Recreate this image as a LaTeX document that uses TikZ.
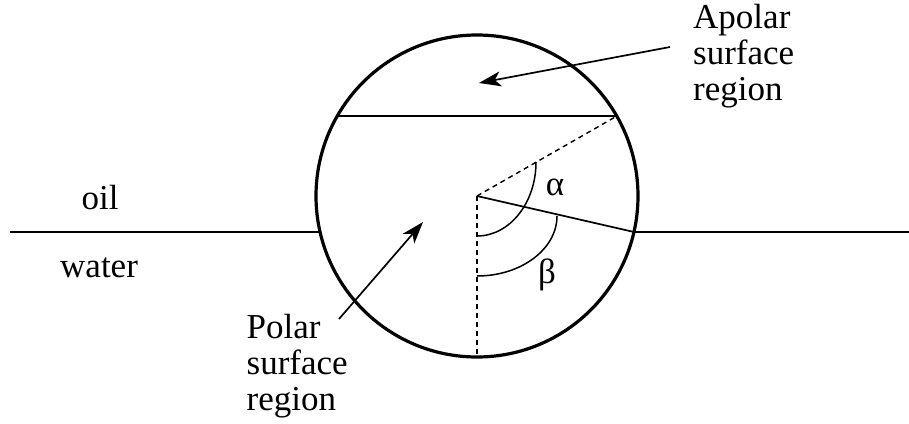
\documentclass[tikz,border=0pt]{standalone}
\usepackage{fontspec}
\setmainfont{Liberation Serif}
\usetikzlibrary{arrows.meta}
\tikzset{
  lbl/.style={inner sep=0pt, font=\fontsize{35}{36}\selectfont, align=left},
  thin line/.style={line width=1.7pt},
  dash line/.style={line width=1.4pt, dash pattern=on 5pt off 4pt},
  pointer/.style={line width=1.7pt, -{Stealth[length=22pt,width=15pt,inset=6pt]}}
}
\begin{document}
\begin{tikzpicture}[x=1pt,y=-1pt]
\useasboundingbox (0,0) rectangle (909,423);
% key points
\coordinate (O) at (477,196);
\coordinate (bottom) at (477,357);
\coordinate (chordL) at (337,116);
\coordinate (chordR) at (617,116);
\coordinate (wl) at (320,232);
\coordinate (wr) at (634,232);
\coordinate (lineL) at (10,232);
\coordinate (lineR) at (909,232);
\coordinate (aTail) at (670,47);
\coordinate (aTip) at (479,83);
\coordinate (pTail) at (339,319);
\coordinate (pTip) at (423,222);
% sphere
\draw[line width=3.2pt] (O) circle[radius=161pt];
% interface lines
\draw[thin line] (lineL) -- (wl);
\draw[thin line] (wr) -- (lineR);
% chord
\draw[thin line] (chordL) -- (chordR);
% radii
\draw[dash line] (O) -- (chordR);
\draw[dash line] (O) -- (bottom);
\draw[thin line] (O) -- (wr);
% angle arcs
\draw[line width=1.5pt] (477,236) .. controls (509.6,236) and (536,202.9) .. (536,162);
\draw[line width=1.5pt] (477,276) .. controls (521.2,276) and (557,249.1) .. (557,216);
% labels
\node[lbl, anchor=base west] (oil) at (81.5,209) {oil};
\node[lbl, anchor=base west] (water) at (60,277) {water};
\node[lbl] (alpha) at (555,187) {α};
\node[lbl] (beta) at (547,275) {β};
\node[lbl, anchor=base west] (apolar) at (693,100.5) {Apolar\\surface\\region};
\node[lbl, anchor=base west] (polar) at (246.5,410.5) {Polar\\surface\\region};
% pointers
\draw[pointer] (aTail) -- (aTip);
\draw[pointer] (pTail) -- (pTip);
\end{tikzpicture}
\end{document}
